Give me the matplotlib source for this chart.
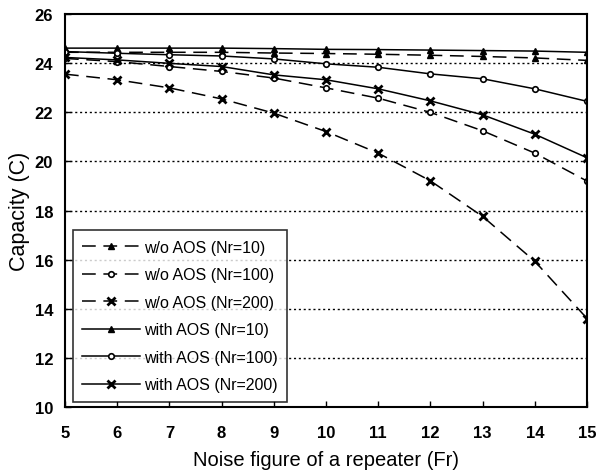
import matplotlib.pyplot as plt

# -------------------------------
# DATA
# -------------------------------
fr = [5, 6, 7, 8, 9, 10, 11, 12, 13, 14, 15]

wo_nr10 = [24.45, 24.45, 24.45, 24.45, 24.42, 24.4, 24.37, 24.33, 24.28, 24.22, 24.12]
wo_nr100 = [24.2, 24.07, 23.87, 23.67, 23.4, 23.0, 22.58, 22.0, 21.25, 20.34, 19.2]
wo_nr200 = [23.56, 23.33, 23.0, 22.55, 21.97, 21.22, 20.34, 19.21, 17.76, 15.93, 13.6]

with_nr10 = [24.62, 24.62, 24.62, 24.62, 24.6, 24.57, 24.56, 24.54, 24.52, 24.5, 24.45]
with_nr100 = [24.48, 24.41, 24.35, 24.3, 24.18, 23.98, 23.84, 23.57, 23.37, 22.96, 22.45]
with_nr200 = [24.24, 24.14, 24.0, 23.87, 23.53, 23.33, 22.96, 22.47, 21.9, 21.11, 20.15]

labels = ['w/o AOS (Nr=10)', 'w/o AOS (Nr=100)', 'w/o AOS (Nr=200)',
          'with AOS (Nr=10)', 'with AOS (Nr=100)', 'with AOS (Nr=200)']

# -------------------------------
# PLOT
# -------------------------------
plt.rcParams['font.family'] = ['Liberation Sans', 'DejaVu Sans']

fig = plt.figure(figsize=(5.96, 4.77), dpi=100)
ax = fig.add_axes([0.109, 0.145, 0.876, 0.823])

dash = (0, (9, 5))
ax.plot(fr, wo_nr10, color='black', lw=1.1, ls=dash, marker='^', ms=4.5, label=labels[0])
ax.plot(fr, wo_nr100, color='black', lw=1.1, ls=dash, marker='o', ms=4,
        mfc='white', mew=1.2, label=labels[1])
ax.plot(fr, wo_nr200, color='black', lw=1.1, ls=dash, marker='x', ms=5.5, mew=2, label=labels[2])
ax.plot(fr, with_nr10, color='black', lw=1.1, marker='^', ms=4.5, label=labels[3])
ax.plot(fr, with_nr100, color='black', lw=1.1, marker='o', ms=4,
        mfc='white', mew=1.2, label=labels[4])
ax.plot(fr, with_nr200, color='black', lw=1.1, marker='x', ms=5.5, mew=2, label=labels[5])

ax.set_xlim(5, 15)
ax.set_ylim(10, 26)
ax.set_xticks(range(5, 16))
ax.set_yticks(range(10, 27, 2))

for yv in range(12, 25, 2):
    ax.axhline(yv, color='black', lw=1.0, ls=(0, (1.5, 2)), zorder=0)

ax.tick_params(direction='in', length=4, width=1, labelsize=12)
ax.tick_params(axis='x', pad=13)
ax.tick_params(axis='y', pad=8.5)
for lab in ax.get_xticklabels() + ax.get_yticklabels():
    lab.set_fontweight('bold')
for s in ax.spines.values():
    s.set_linewidth(1.5)

ax.set_xlabel('Noise figure of a repeater (Fr)', fontsize=14.5, labelpad=7)
ax.set_ylabel('Capacity (C)', fontsize=15.5, labelpad=3)

leg = ax.legend(loc='lower left', bbox_to_anchor=(0.015, 0.013), borderaxespad=0,
                fontsize=11.5, frameon=True, fancybox=False, edgecolor='black',
                handlelength=3.6, borderpad=0.6, labelspacing=0.78, handletextpad=0.25)
leg.get_frame().set_linewidth(1.2)

fig.savefig('out.png', dpi=100)
